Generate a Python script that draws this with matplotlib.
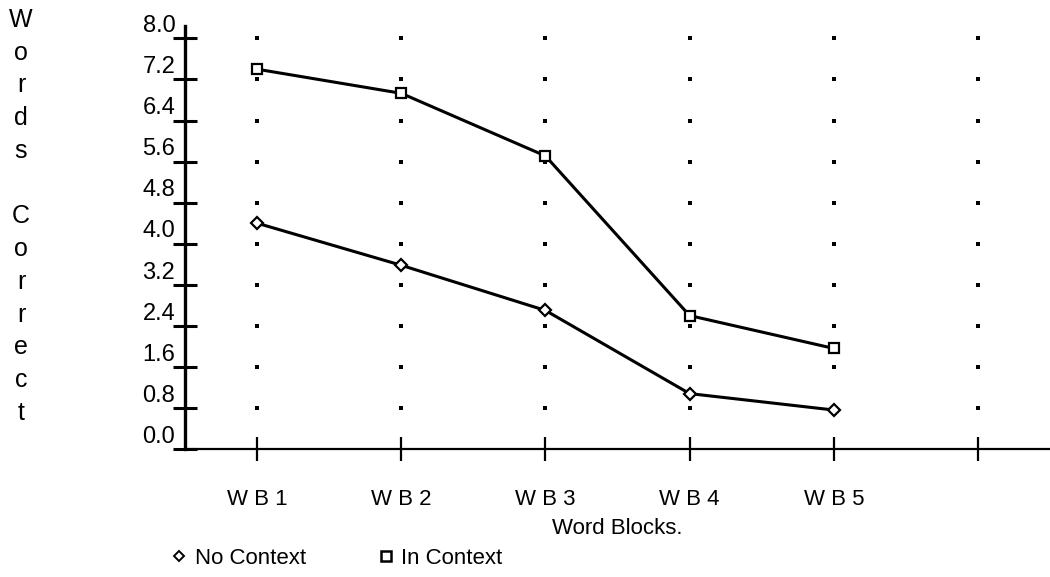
import matplotlib
matplotlib.use("Agg")
import matplotlib.pyplot as plt
from matplotlib.lines import Line2D

plt.rcParams['font.family'] = ['Liberation Sans', 'DejaVu Sans']

# data
blocks = ["W B 1", "W B 2", "W B 3", "W B 4", "W B 5"]
no_context = [4.40, 3.58, 2.70, 1.08, 0.76]
in_context = [7.40, 6.93, 5.71, 2.60, 1.96]
y_ticks = [0.0, 0.8, 1.6, 2.4, 3.2, 4.0, 4.8, 5.6, 6.4, 7.2, 8.0]
y_labels = ["0.0", "0.8", "1.6", "2.4", "3.2", "4.0", "4.8", "5.6", "6.4", "7.2", "8.0"]
x_pos = [1, 2, 3, 4, 5]
x_ticks = [1, 2, 3, 4, 5, 6]

fig = plt.figure(figsize=(10.5, 5.77), dpi=100)
ax = fig.add_axes([0.1762, 0.2218, 0.8238, 0.733])

# dotted grid at tick intersections
for xt in x_ticks:
    ax.plot([xt] * (len(y_ticks) - 1), y_ticks[1:], ls="none", marker="s",
            ms=2.4, color="black", mew=0)

ax.plot(x_pos, no_context, color="black", lw=2.2, marker="D", ms=6,
        mfc="white", mec="black", mew=1.6, zorder=3)
ax.plot(x_pos, in_context, color="black", lw=2.2, marker="s", ms=7.5,
        mfc="white", mec="black", mew=1.6, zorder=3)

ax.set_xlim(0.5, 6.5)
ax.set_ylim(0, 8.24)
ax.spines["top"].set_visible(False)
ax.spines["right"].set_visible(False)
ax.spines["left"].set_linewidth(2.4)
ax.spines["bottom"].set_linewidth(1.6)

ax.set_xticks(x_ticks)
ax.set_xticklabels(blocks + [""], fontsize=16)
ax.tick_params(axis="x", direction="inout", length=17, width=1.6, pad=20)

ax.set_yticks(y_ticks)
ax.set_yticklabels([])
ax.tick_params(axis="y", direction="inout", length=17, width=2.2)
for v, lab in zip(y_ticks, y_labels):
    ax.annotate(lab, xy=(0, v), xycoords=ax.get_yaxis_transform(),
                xytext=(-7, 4.5), textcoords="offset points",
                ha="right", va="baseline", fontsize=17)

ax.set_xlabel("Word Blocks.", fontsize=16, labelpad=6)

fig.text(0.02, 0.625, "\n".join(list("Words Correct")), fontsize=18,
         ha="center", va="center", linespacing=1.46)

handles = [
    Line2D([], [], ls="none", marker="D", ms=5.5, mfc="white", mec="black", mew=1.4),
    Line2D([], [], ls="none", marker="s", ms=7, mfc="white", mec="black", mew=1.8),
]
fig.legend(handles, ["No Context", "In Context"], loc="lower left",
           bbox_to_anchor=(0.143, -0.02), ncol=2, frameon=False, fontsize=16,
           handlelength=0.8, handletextpad=0.3, columnspacing=3.2)

fig.savefig("out.png", dpi=100)
